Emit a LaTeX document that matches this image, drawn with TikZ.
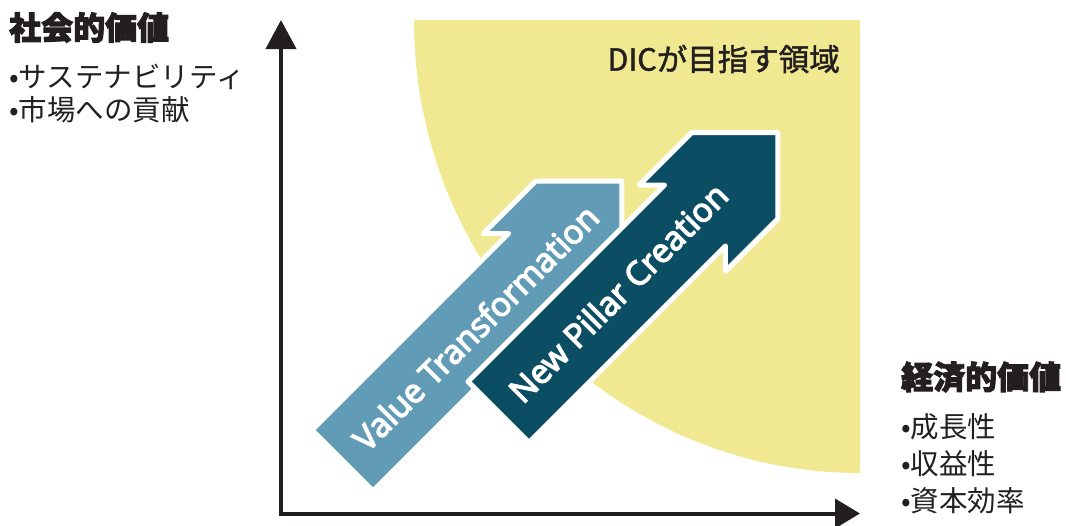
\documentclass[tikz,border=0pt]{standalone}
\usepackage{fontspec}
\newfontfamily\jp{Noto Sans CJK JP}
\newfontfamily\jpmed{Noto Sans CJK JP}[FakeBold=1.5]
\newfontfamily\jpheavy{Noto Sans CJK JP}[FakeBold=3]
\newfontfamily\en{Open Sans}[FakeBold=4]
\usetikzlibrary{arrows.meta}
\definecolor{ylw}{HTML}{F1E892}
\definecolor{lblue}{HTML}{629BB5}
\definecolor{dteal}{HTML}{0B4D63}
\definecolor{ink}{HTML}{231F20}
\begin{document}
\begin{tikzpicture}[x=1pt,y=-1pt,
  axis/.style={draw=ink, line width=4pt},
  bigarrow/.style={draw=white, line width=5pt, line join=round},
  arrowtext/.style={text=white, font=\en\fontsize{33}{33}\selectfont, rotate=45, inner sep=0pt},
  title/.style={font=\jpheavy\bfseries\fontsize{32}{32}\selectfont, text=ink, anchor=west, inner sep=0pt},
  item/.style={font=\jp\fontsize{28.5}{28.5}\selectfont, text=ink, anchor=west, inner sep=0pt}
]
\useasboundingbox (0,0) rectangle (1066,525);
% target region
\fill[ylw] (860,20) -- (414,20) .. controls (414,270.2) and (613.7,473) .. (860,473) -- cycle;
\node[font=\jpmed\fontsize{30.5}{30.5}\selectfont, text=ink, inner sep=0pt, anchor=east] (dic) at (840,59) {DICが目指す領域};
% axes
\coordinate (O) at (281,513.5);
\coordinate (Ytip) at (281,20);
\coordinate (Xtip) at (860,513.5);
\draw[axis, {Triangle[length=29pt,width=30pt]}-{Triangle[length=25pt,width=29pt]}] (Ytip) -- (O) -- (Xtip);
% light arrow
\begin{scope}[shift={(342.5,460.5)}, rotate=45]
\filldraw[bigarrow, fill=lblue] (0,-43) -- (278,-43) -- (260,-61) -- (334,-61) -- (395,0) -- (334,61) -- (260,61) -- (278,43) -- (0,43) -- cycle;
\node[arrowtext] (vt) at (188,0) {Value Transformation};
\end{scope}
% dark arrow
\begin{scope}[shift={(498.5,412)}, rotate=45]
\filldraw[bigarrow, fill=dteal] (0,-43) -- (278,-43) -- (260,-61) -- (334,-61) -- (395,0) -- (334,61) -- (260,61) -- (278,43) -- (0,43) -- cycle;
\node[arrowtext] (np) at (169,0) {New Pillar Creation};
\end{scope}
% left labels
\node[title] (sv) at (9,27.5) {社会的価値};
\node[item] (sv1) at (9,77) {•サステナビリティ};
\node[item] (sv2) at (9,110) {•市場への貢献};
% right labels
\node[title] (ev) at (901,377) {経済的価値};
\node[item] (ev1) at (901,427) {•成長性};
\node[item] (ev2) at (901,464) {•収益性};
\node[item] (ev3) at (901,501) {•資本効率};
\end{tikzpicture}
\end{document}
